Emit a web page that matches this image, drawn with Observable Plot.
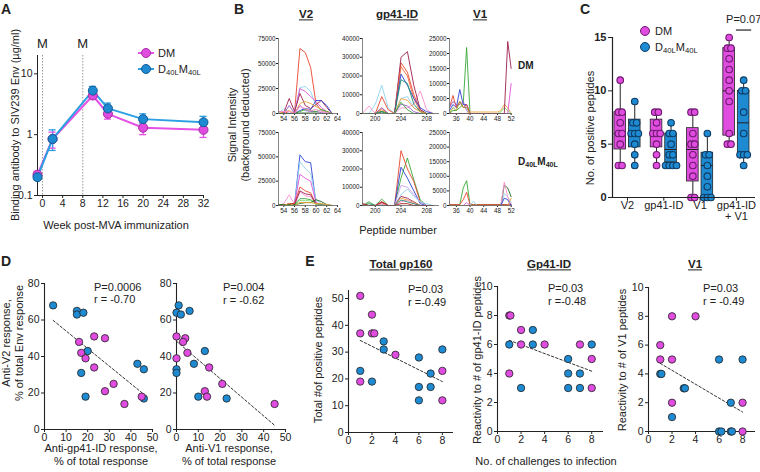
<!DOCTYPE html>
<html><head><meta charset="utf-8">
<script src="https://cdn.jsdelivr.net/npm/d3@7"></script>
<script src="https://cdn.jsdelivr.net/npm/@observablehq/plot@0.6"></script>
<style>
body{margin:0;background:#fff}
#fig{position:relative;width:760px;height:472px;overflow:hidden;background:#fff;font-family:"Liberation Sans",Arial,Helvetica,sans-serif;color:#222}
.abs{position:absolute;white-space:nowrap}
sub{font-size:0.7em;vertical-align:-0.25em;line-height:0}
</style></head>
<body><div id="fig"></div>
<script>
// ================= DATA =================
// Panel A
const weeks = [-1, 2, 10, 13, 20, 32];
const dmMean = [0.22, 0.85, 4.4, 2.2, 1.3, 1.2];
const dmLo   = [0.20, 0.60, 3.9, 1.8, 1.0, 0.9];
const dmHi   = [0.25, 1.10, 5.0, 2.6, 1.6, 1.5];
const dlMean = [0.20, 0.85, 5.3, 2.7, 1.8, 1.6];
const dlLo   = [0.18, 0.55, 4.5, 2.3, 1.5, 1.3];
const dlHi   = [0.23, 1.20, 6.2, 3.3, 2.2, 2.0];
const mWeeks = [0, 8];
const aXTicks = [0, 4, 8, 12, 16, 20, 24, 28, 32];
const aYTicks = [0.1, 1, 10];

// Panel B
const pepV2 = [53,54,55,56,57,58,59,60,61,62,63];
const pepGp = [198,199,200,201,202,203,204,205,206,207,208,209];
const pepV1 = [34,35,36,37,38,39,40,41,42,43,44,45,46,47,48,49,50,51,52];
const v2DM = [
 ["red",    [2000,2000,0,1000,65000,61000,46000,10000,3000,1000,0]],
 ["lblue",  [0,5000,0,2000,26000,27000,22000,8000,3000,1000,0]],
 ["mag",    [0,0,0,1000,25000,22000,17000,12000,6000,2000,0]],
 ["maroon", [0,1000,15000,2000,20000,8000,5000,9000,13000,6000,0]],
 ["blue",   [0,0,0,0,3000,5000,4000,13000,13000,8000,0]],
 ["orange", [0,2000,3000,0,10000,12000,10000,7000,4000,2000,0]],
 ["purple", [0,0,8000,0,8000,3000,2000,2000,1000,0,0]],
 ["green",  [0,0,0,0,2000,4000,3000,2000,4000,2000,0]],
 ["pink",   [2000,2000,2000,0,7000,5000,3000,4000,2000,1000,0]],
 ["dgreen", [0,0,0,0,500,500,500,500,0,0,0]]
];
const v2DL = [
 ["blue",   [0,0,2000,1000,52000,45000,44000,2000,0,0,0]],
 ["lblue",  [0,0,0,2000,45000,38000,33000,6000,2000,0,0]],
 ["mag",    [0,0,1000,2000,32000,28000,25000,3000,1000,0,0]],
 ["pink",   [0,2000,11000,1000,14000,10000,9000,2000,0,0,0]],
 ["red",    [0,0,2000,2000,19000,15000,13000,1000,0,0,0]],
 ["maroon", [0,0,2000,1000,15000,12000,11000,1000,0,0,0]],
 ["green",  [0,0,0,1000,7000,7000,6000,2000,1000,0,0]],
 ["lgreen", [0,0,0,0,5000,5000,5000,1000,0,0,0]],
 ["dgreen", [1000,1000,1000,1000,2000,3000,3000,6000,4000,1000,0]],
 ["orange", [0,0,2000,0,3000,3000,3000,2000,2000,1000,0]]
];
const gpDM = [
 ["lblue",  [0,0,5000,15000,3000,0,8000,9000,3000,1000,0,0]],
 ["pink",   [0,4000,0,2000,0,0,3000,3000,5000,12000,2000,0]],
 ["red",    [0,0,0,9000,2000,0,27000,22000,10000,2000,0,0]],
 ["maroon", [0,0,0,1000,0,0,30000,33000,15000,2000,0,0]],
 ["ored",   [0,0,0,3000,0,0,25000,20000,8000,1000,0,0]],
 ["blue",   [0,0,0,1000,0,0,21000,15000,8000,3000,1000,0]],
 ["teal",   [0,0,0,1000,0,0,18000,16000,5000,1000,0,0]],
 ["orange", [0,0,0,2000,0,0,8000,7000,3000,1000,0,0]],
 ["purple", [0,0,0,3000,0,0,5000,4000,1000,0,0,0]],
 ["green",  [0,0,0,1000,0,0,6000,2000,0,0,0,0]]
];
const gpDL = [
 ["green",  [0,2000,0,3500,0,0,15000,26000,14000,3000,0,0]],
 ["red",    [0,0,0,2000,0,0,30000,20000,13000,2000,0,0]],
 ["blue",   [0,0,0,1000,0,0,21000,15000,8000,1000,0,0]],
 ["lav",    [0,0,0,1000,0,0,11000,10000,6000,2000,0,0]],
 ["lblue",  [0,0,0,1000,0,0,6000,9000,5000,2000,1000,0]],
 ["maroon", [0,0,0,1500,0,0,5000,4000,2000,0,0,0]],
 ["orange", [0,0,0,1000,0,0,4000,3000,1500,0,0,0]],
 ["pink",   [1000,0,0,1000,0,0,2000,3000,1000,0,0,0]],
 ["teal",   [0,1000,0,0,0,0,3000,2000,1000,0,0,0]],
 ["dred",   [1000,0,0,2000,0,0,1000,1000,0,0,0,0]]
];
const v1DM = [
 ["green",  [0,1000,1000,2000,3000,22000,0,0,0,0,0,0,0,0,0,0,0,0,0]],
 ["blue",   [1000,3000,2000,8000,3000,3000,0,0,0,0,0,0,0,0,0,0,0,0,0]],
 ["red",    [2000,6000,2000,4000,2000,3000,0,0,0,0,0,0,0,0,0,0,0,0,0]],
 ["purple", [2000,4000,3000,3000,4000,1000,0,0,0,0,0,0,0,0,0,0,0,0,0]],
 ["olive",  [0,2000,1000,4000,2000,2000,0,0,0,0,0,0,0,0,0,0,0,0,0]],
 ["orange", [0,0,0,0,0,0,500,500,500,500,500,500,500,500,500,1000,3000,2000,0]],
 ["lgreen", [0,0,0,0,0,0,0,0,0,0,0,0,0,0,0,500,2000,1000,0]],
 ["mag",    [0,0,0,0,0,0,0,0,0,0,0,0,0,0,0,0,0,0,10000]],
 ["maroon", [0,0,0,0,0,0,0,0,0,0,0,0,0,0,0,0,0,24000,15000]]
];
const v1DL = [
 ["green",  [300,300,300,300,6000,8500,300,300,300,300,300,300,300,300,300,300,300,300,300]],
 ["red",    [300,300,300,300,2000,4500,300,300,300,300,300,300,300,300,300,300,300,300,300]],
 ["mag",    [0,0,0,0,0,1000,0,0,0,0,0,0,0,0,0,0,0,0,500]],
 ["lblue",  [0,0,0,0,0,0,0,1500,0,0,0,0,0,0,0,0,4000,3000,1000]],
 ["dgreen", [0,0,0,0,0,0,0,0,0,0,0,0,0,0,0,0,7000,6000,3000]],
 ["pink",   [0,0,0,0,0,0,0,0,0,0,0,0,0,0,0,0,8000,3000,0]],
 ["blue",   [0,0,0,0,0,0,0,0,0,0,0,0,0,0,0,0,2500,2000,0]],
 ["orange", [0,0,0,0,0,0,0,0,0,0,0,0,0,0,0,0,0,0,2500]]
];

// Panel C
const cGroups = ["V2", "gp41-ID", "V1", "gp41-ID"];
const cGroups2 = ["", "", "", "+ V1"];
// [min, q1, median, q3, max]
const cBoxDM = [[3,4.5,6,8,11],[3,4.7,6,7.3,8],[0,1.5,4.5,6.5,8],[5,5.8,10,14,15]];
const cBoxDL = [[3,4.7,6,7.3,9],[3,3.3,4.5,6,7],[0,0,3,4.2,6],[3,4,7,10,11]];
const cPtsDM = [[3,3,5,6,6,7,8,8,11],[3,4,5,6,6,6,7,8,8],[0,0,2,3,4,5,5,6,8,8],[5,5,6,9,10,11,12,13,14,14,15]];
const cPtsDL = [[3,4,5,6,6,6,7,7,9],[3,3,3,3,4,4,5,6,6,7],[0,0,0,1,2,3,4,4,6],[3,4,4,4,6,8,10,10,11]];

// Panel D
const dGpBlueX = [4,15,15,18,20,17,19,43,46,46];
const dGpBlueY = [68,65,63,64,43,31,18,36,33,17];
const dGpMagX  = [16,17,19,23,28,23,32,28,37,45];
const dGpMagY  = [48,42,39,51,50,34,25,21,14,18];
const dV1BlueX = [1,0,2,6,13,8,0,0,10,23];
const dV1BlueY = [68,64,63,65,43,36,33,31,18,17];
const dV1MagX  = [0,4,3,5,0,15,21,13,14,45];
const dV1MagY  = [51,50,48,42,39,34,25,21,18,14];

// Panel E
const e1MagX  = [1,1,2,2,2.2,1,4,8,8];
const e1MagY  = [51,37,44,37,37,19,29,23,12];
const e1BlueX = [1,2,3,3,6,6,6,7,7,8];
const e1BlueY = [23,19,34,31,28,17,12,22,17,31];
const e2MagX  = [1,1.1,2,2,4,1,7,8,8];
const e2MagY  = [8,8,7,6,6,4,6,5,3];
const e2BlueX = [1,2,3,3,6,6,6,7,7,8];
const e2BlueY = [6,3,7,6,5,4,3,4,3,6];
const e3MagX  = [1,1,2,4,2,2,8,8];
const e3MagY  = [6,5,8,8,5,2,2,0];
const e3BlueX = [1,1.1,2,3,3.1,6,8,7,6,6.2,7,7.1];
const e3BlueY = [4,4,1,3,3,5,5,2,0,0,0,0];

// ================= STYLE =================
const FONT = '"Liberation Sans", Arial, Helvetica, sans-serif';
const MAG = "#df4cdf", BLU = "#1e8ad2";
const MAG_D = "#6e1a6e", BLU_D = "#0e3c64";
const A_MAG = "#e550e5", A_BLU = "#2aa0e2";
const bColors = {red:"#e8452c", lblue:"#8fd2ef", mag:"#dd55dd", maroon:"#9c1f4e", blue:"#2b43d3",
  orange:"#f0a23a", purple:"#9a5ac8", green:"#36a836", dgreen:"#1e6a1e", pink:"#ff8fcf",
  lgreen:"#7fe07f", lav:"#c8a0f0", teal:"#1a8f6f", dred:"#b01818", olive:"#9a9a2a", ored:"#f26a3c"};

const fig = document.getElementById("fig");
function place(frame, m, options, fontSize) {
  const [ml, mr, mt, mb] = m;
  const w = frame[1] - frame[0] + ml + mr;
  const h = frame[3] - frame[2] + mt + mb;
  const svg = Plot.plot({
    ...options, width: w, height: h,
    marginLeft: ml, marginRight: mr, marginTop: mt, marginBottom: mb,
    style: {fontFamily: FONT, fontSize: fontSize + "px", color: "#222", background: "transparent", overflow: "visible"}
  });
  svg.style.position = "absolute";
  svg.style.left = (frame[0] - ml) + "px";
  svg.style.top = (frame[2] - mt) + "px";
  svg.style.maxWidth = "none";
  fig.appendChild(svg);
  return svg;
}
function T(x, y, html, o = {}) {
  const d = document.createElement("div");
  d.className = "abs";
  d.innerHTML = html;
  d.style.left = x + "px"; d.style.top = y + "px";
  d.style.fontSize = (o.size || 11) + "px";
  d.style.fontWeight = o.weight || "normal";
  d.style.lineHeight = o.lh || "1.15";
  d.style.textAlign = "center";
  if (o.underline) d.style.textDecoration = "underline";
  const tx = o.anchor === "start" ? "0" : o.anchor === "end" ? "-100%" : "-50%";
  d.style.transform = `translate(${tx},-50%)` + (o.rotate ? ` rotate(${o.rotate}deg)` : "");
  fig.appendChild(d);
  return d;
}
const DL_HTML = "D<sub>40L</sub>M<sub>40L</sub>";

// ================= PANEL A =================
const aRows = weeks.map((w, i) => ({w, g: "DM", m: dmMean[i], lo: dmLo[i], hi: dmHi[i], c: A_MAG, f: MAG, sc: "#a82aa8"}))
  .concat(weeks.map((w, i) => ({w, g: "DL", m: dlMean[i], lo: dlLo[i], hi: dlHi[i], c: A_BLU, f: BLU, sc: "#125a98"})));
place([37, 203, 55, 195], [32, 4, 26, 18], {
  x: {domain: [-1, 32], ticks: aXTicks, tickSize: 3, tickPadding: 1, label: null},
  y: {type: "log", domain: [0.1, 20], ticks: aYTicks, tickFormat: d => String(d), tickSize: 3, tickPadding: 2, label: null},
  color: {type: "identity"},
  marks: [
    Plot.ruleX(mWeeks, {x: d => d, stroke: "#9a9a9a", strokeDasharray: "1.5,1.5", strokeWidth: 1}),
    Plot.text(mWeeks, {x: d => d, y: 31, text: () => "M", fontSize: 13}),
    Plot.ruleX([-1], {stroke: "#222"}),
    Plot.ruleY([0.1], {stroke: "#222"}),
    Plot.ruleX(aRows, {x: "w", y1: "lo", y2: "hi", stroke: "c", strokeWidth: 1.3}),
    Plot.ruleY(aRows, {y: "lo", x1: d => d.w - 0.7, x2: d => d.w + 0.7, stroke: "c", strokeWidth: 1.3}),
    Plot.ruleY(aRows, {y: "hi", x1: d => d.w - 0.7, x2: d => d.w + 0.7, stroke: "c", strokeWidth: 1.3}),
    Plot.line(aRows, {x: "w", y: "m", z: "g", stroke: "c", strokeWidth: 2}),
    Plot.dot(aRows, {x: "w", y: "m", r: 4.5, fill: "f", stroke: "sc", strokeWidth: 1})
  ]
}, 10.5);
T(6, 9, "A", {size: 14, weight: "bold"});
T(15, 125, "Binding antibody to SIV239 Env (µg/ml)", {rotate: -90, size: 11});
T(116, 225, "Week post-MVA immunization", {size: 11});
// legend A
(function(){
  [[53, A_MAG, MAG, "#a82aa8", "DM"], [69, A_BLU, BLU, "#125a98", DL_HTML]].forEach(([y, lc, fc, sc, lab]) => {
    const l = document.createElement("div"); l.className = "abs";
    Object.assign(l.style, {left: "138px", top: (y - 1) + "px", width: "16px", height: "2px", background: lc});
    fig.appendChild(l);
    const c = document.createElement("div"); c.className = "abs";
    Object.assign(c.style, {left: "141px", top: (y - 5) + "px", width: "8px", height: "8px", borderRadius: "50%", background: fc, border: "1px solid " + sc});
    fig.appendChild(c);
    T(158, y, lab, {anchor: "start", size: 11});
  });
})();

// ================= PANEL B =================
function rowsFrom(series, peps) {
  return series.flatMap((s, i) => s[1].map((v, j) => ({p: peps[j], v, s: i, c: bColors[s[0]]})));
}
function panelB(frame, xdom, xticks, ydom, yticks, series, peps) {
  place(frame, [26, 3, 4, 12], {
    x: {domain: xdom, ticks: xticks, tickSize: 2, tickPadding: 1, label: null, tickFormat: "d"},
    y: {domain: ydom, ticks: yticks, tickSize: 2, tickPadding: 1, label: null, tickFormat: "d"},
    color: {type: "identity"},
    marks: [
      Plot.line(rowsFrom(series, peps), {x: "p", y: "v", z: "s", stroke: "c", strokeWidth: 0.9}),
      Plot.ruleX([xdom[0]], {stroke: "#666", strokeWidth: 0.8}),
      Plot.ruleY([0], {stroke: "#666", strokeWidth: 0.8})
    ]
  }, 6.3);
}
const bRows = [[38, 113], [132, 205]];
panelB([278, 338, ...bRows[0]], [53, 64.2], [54,56,58,60,62,64], [0, 75000], [0,25000,50000,75000], v2DM, pepV2);
panelB([362, 439, ...bRows[0]], [198, 210], [200,204,208], [0, 40000], [0,10000,20000,30000,40000], gpDM, pepGp);
panelB([449, 512, ...bRows[0]], [34, 52.4], [36,40,44,48,52], [0, 25000], [0,5000,10000,15000,20000,25000], v1DM, pepV1);
panelB([278, 338, ...bRows[1]], [53, 64.2], [54,56,58,60,62,64], [0, 75000], [0,25000,50000,75000], v2DL, pepV2);
panelB([362, 439, ...bRows[1]], [198, 210], [200,204,208], [0, 40000], [0,10000,20000,30000,40000], gpDL, pepGp);
panelB([449, 512, ...bRows[1]], [34, 52.4], [36,40,44,48,52], [0, 25000], [0,5000,10000,15000,20000,25000], v1DL, pepV1);
T(239, 9, "B", {size: 14, weight: "bold"});
T(306, 15, "V2", {size: 11.5, weight: "bold", underline: true});
T(397, 15, "gp41-ID", {size: 11.5, weight: "bold", underline: true});
T(480, 15, "V1", {size: 11.5, weight: "bold", underline: true});
T(232, 125, "Signal Intensity", {rotate: -90, size: 11});
T(245, 125, "(background deducted)", {rotate: -90, size: 11});
T(398, 230, "Peptide number", {size: 11});
T(518, 66, "DM", {size: 10, weight: "bold", anchor: "start"});
T(518, 162, DL_HTML, {size: 10, weight: "bold", anchor: "start"});

// ================= PANEL C =================
function spread(vals, gi, off, fill, stroke) {
  const counts = d3.rollup(vals, v => v.length, d => d);
  const seen = new Map();
  return vals.map(v => {
    const n = counts.get(v), k = seen.get(v) || 0; seen.set(v, k + 1);
    return {x: gi + off + (k - (n - 1) / 2) * 0.1, y: v, c: fill, sc: stroke};
  });
}
const cBox = [];
const cPts = [];
cGroups.forEach((g, gi) => {
  const a = cBoxDM[gi], b = cBoxDL[gi];
  cBox.push({x: gi - 0.2, mn: a[0], q1: a[1], md: a[2], q3: a[3], mx: a[4], c: MAG});
  cBox.push({x: gi + 0.2, mn: b[0], q1: b[1], md: b[2], q3: b[3], mx: b[4], c: BLU});
  cPts.push(...spread(cPtsDM[gi], gi, -0.2, MAG, MAG_D));
  cPts.push(...spread(cPtsDL[gi], gi, 0.2, BLU, BLU_D));
});
const cIdx = [0, 1, 2, 3];
const cSvg = place([612, 755, 37, 197], [24, 6, 26, 30], {
  x: {domain: [-0.413, 3.526], axis: null},
  y: {domain: [0, 15], ticks: [0, 5, 10, 15], tickSize: 4, tickPadding: 2, label: null},
  color: {type: "identity"},
  marks: [
    Plot.ruleX(cBox, {x: "x", y1: "mn", y2: "q1", stroke: "#222", strokeWidth: 1}),
    Plot.ruleX(cBox, {x: "x", y1: "q3", y2: "mx", stroke: "#222", strokeWidth: 1}),
    Plot.ruleY(cBox, {y: "mn", x1: d => d.x - 0.07, x2: d => d.x + 0.07, stroke: "#222"}),
    Plot.ruleY(cBox, {y: "mx", x1: d => d.x - 0.07, x2: d => d.x + 0.07, stroke: "#222"}),
    Plot.rect(cBox, {x1: d => d.x - 0.16, x2: d => d.x + 0.16, y1: "q1", y2: "q3", fill: "c", stroke: "#222", strokeWidth: 0.8}),
    Plot.ruleY(cBox, {y: "md", x1: d => d.x - 0.16, x2: d => d.x + 0.16, stroke: "#222", strokeWidth: 1}),
    Plot.dot(cPts, {x: "x", y: "y", r: 3.3, fill: "c", stroke: "sc", strokeWidth: 1.1}),
    Plot.ruleX([-0.413], {stroke: "#222", strokeWidth: 1.2}),
    Plot.ruleY([0], {stroke: "#222", strokeWidth: 1.2}),
    Plot.ruleX(cIdx, {x: d => d, y1: 0, y2: -0.35, stroke: "#222"}),
    Plot.text(cIdx, {x: d => d, y: -0.75, text: d => cGroups[d], fontSize: 11}),
    Plot.text(cIdx, {x: d => d, y: -1.8, text: d => cGroups2[d], fontSize: 11}),
    Plot.ruleY([15.7], {x1: 3.0, x2: 3.42, stroke: "#222", strokeWidth: 1.2}),
    Plot.text(["P=0.07"], {x: 3.2, y: 16.7, text: d => d, fontSize: 11})
  ]
}, 11);
cSvg.querySelectorAll('g[aria-label^="y-axis"] text').forEach(t => t.setAttribute("font-weight", "bold"));
T(585, 9, "C", {size: 14, weight: "bold"});
T(590, 128, "No. of positive peptides", {rotate: -90, size: 11});
[[31, MAG, MAG_D, "DM"], [47, BLU, BLU_D, DL_HTML]].forEach(([y, fc, sc, lab]) => {
  const c = document.createElement("div"); c.className = "abs";
  Object.assign(c.style, {left: "640px", top: (y - 5) + "px", width: "8px", height: "8px", borderRadius: "50%", background: fc, border: "1.2px solid " + sc});
  fig.appendChild(c);
  T(655, y, lab, {anchor: "start", size: 11});
});

// ================= PANELS D & E =================
function pts(xb, yb, xm, ym) {
  return xb.map((x, i) => ({x, y: yb[i], c: BLU})).concat(xm.map((x, i) => ({x, y: ym[i], c: MAG})));
}
function scatter(frame, xdom, xticks, ydom, yticks, data) {
  place(frame, [28, 8, 8, 18], {
    x: {domain: xdom, ticks: xticks, tickSize: 3, tickPadding: 1, label: null},
    y: {domain: ydom, ticks: yticks, tickSize: 3, tickPadding: 2, label: null},
    color: {type: "identity"},
    marks: [
      Plot.ruleX([xdom[0]], {stroke: "#222", strokeWidth: 1.1}),
      Plot.ruleY([ydom[0]], {stroke: "#222", strokeWidth: 1.1}),
      Plot.linearRegressionY(data, {x: "x", y: "y", ci: 0, stroke: "#333", strokeWidth: 1, strokeDasharray: "2.5,2"}),
      Plot.dot(data, {x: "x", y: "y", r: 3.7, fill: "c", stroke: "#222", strokeWidth: 0.8})
    ]
  }, 10.5);
}
scatter([44, 152, 283, 429], [0, 50], [0,10,20,30,40,50], [0, 80], [0,20,40,60,80], pts(dGpBlueX, dGpBlueY, dGpMagX, dGpMagY));
scatter([176, 285, 283, 429], [0, 50], [0,10,20,30,40,50], [0, 80], [0,20,40,60,80], pts(dV1BlueX, dV1BlueY, dV1MagX, dV1MagY));
T(6, 261, "D", {size: 14, weight: "bold"});
T(13, 343, "Anti-V2 response,<br>% of total Env response", {rotate: -90, size: 11, lh: "13px"});
T(94, 287, "P=0.0006", {anchor: "start", size: 11});
T(94, 299, "r = -0.70", {anchor: "start", size: 11});
T(223, 287, "P=0.004", {anchor: "start", size: 11});
T(223, 300, "r = -0.62", {anchor: "start", size: 11});
T(101, 455, "Anti-gp41-ID response,<br>% of total response", {size: 11, lh: "13px"});
T(229, 455, "Anti-V1 response,<br>% of total response", {size: 11, lh: "13px"});

scatter([348, 453, 290, 432], [0, 8.95], [0,2,4,6,8], [0, 53], [0,10,20,30,40,50], pts(e1BlueX, e1BlueY, e1MagX, e1MagY));
scatter([497, 603, 286, 431], [0, 9], [0,2,4,6,8], [0, 10], [0,2,4,6,8,10], pts(e2BlueX, e2BlueY, e2MagX, e2MagY));
scatter([648, 755, 287, 431], [0, 9.1], [0,2,4,6,8], [0, 10], [0,2,4,6,8,10], pts(e3BlueX, e3BlueY, e3MagX, e3MagY));
T(310, 261, "E", {size: 14, weight: "bold"});
T(401, 265, "Total gp160", {size: 11.5, weight: "bold", underline: true});
T(549, 265, "Gp41-ID", {size: 11.5, weight: "bold", underline: true});
T(695, 265, "V1", {size: 11.5, weight: "bold", underline: true});
T(408, 289, "P=0.03", {anchor: "start", size: 11});
T(408, 302, "r =-0.49", {anchor: "start", size: 11});
T(548, 288, "P=0.03", {anchor: "start", size: 11});
T(548, 301, "r =-0.48", {anchor: "start", size: 11});
T(703, 288, "P=0.03", {anchor: "start", size: 11});
T(703, 301, "r = -0.49", {anchor: "start", size: 11});
T(318, 360, "Total #of positive peptides", {rotate: -90, size: 11});
T(477, 360, "Reactivity to # of gp41-ID peptides", {rotate: -90, size: 11});
T(622, 360, "Reactivity to # of V1 peptides", {rotate: -90, size: 11});
T(546, 461, "No. of challenges to infection", {size: 11});
</script>
</body></html>
